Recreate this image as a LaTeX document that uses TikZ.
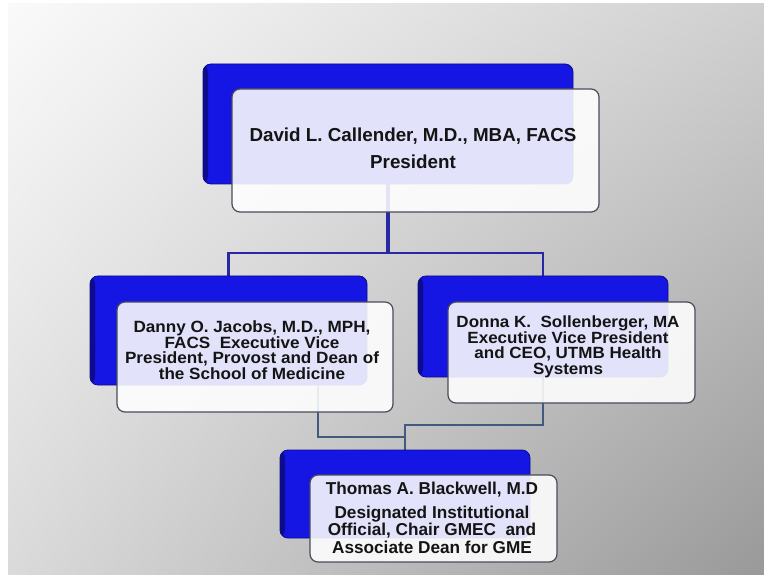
\documentclass[tikz,border=0pt]{standalone}
\usepackage{fontspec}
\setmainfont{Liberation Sans}
\newfontfamily\midfont{Liberation Sans}[FakeStretch=1.05]
\usetikzlibrary{shadings}
\definecolor{bmain}{RGB}{22,22,228}
\definecolor{bdark}{RGB}{12,12,140}
\definecolor{bline}{RGB}{40,40,165}
\definecolor{gline}{RGB}{65,90,125}
\definecolor{fborder}{RGB}{75,75,90}
\definecolor{txtc}{RGB}{20,20,20}
\definecolor{bgul}{RGB}{250,250,250}
\definecolor{bgur}{RGB}{208,208,208}
\definecolor{bgll}{RGB}{218,218,218}
\definecolor{bglr}{RGB}{153,153,153}
\tikzset{
  backbox/.style={rounded corners=8pt, fill=bmain, draw=bdark, line width=0.8pt, inner sep=0pt,
    path picture={\fill[bdark] (path picture bounding box.south west) rectangle ([xshift=5pt]path picture bounding box.north west);}},
  frontbox/.style={rounded corners=8pt, fill=white, fill opacity=0.88, draw=fborder, draw opacity=1, line width=1.2pt, inner sep=0pt},
  txt/.style={text=txtc, align=center, inner sep=0pt},
  topline/.style={draw=bline, line width=2.3pt},
  lowline/.style={draw=gline, line width=2.2pt}
}
\begin{document}
\begin{tikzpicture}[x=1pt,y=-1pt]
\useasboundingbox (0,0) rectangle (764,575);
\fill[white] (0,0) rectangle (764,575);
\shade[upper left=bgul, upper right=bgur, lower left=bgll, lower right=bglr] (8,4) rectangle (764,575);

% named anchor points (positions of boxes)
\coordinate (tbc) at (388,124);
\coordinate (lbc) at (228.5,330.5);
\coordinate (rbc) at (543,326.5);
\coordinate (bbc) at (405,494);

% connectors first (boxes are drawn over them)
\path (tbc) node[minimum width=370pt, minimum height=120pt, inner sep=0pt] (tbg) {};
\path (lbc) node[minimum width=277pt, minimum height=109pt, inner sep=0pt] (lbg) {};
\path (rbc) node[minimum width=250pt, minimum height=101pt, inner sep=0pt] (rbg) {};
\path (bbc) node[minimum width=250pt, minimum height=88pt, inner sep=0pt] (bbg) {};
\coordinate (lo) at (318,385);

\draw[topline, line width=3.6pt] (tbg.south) -- ++(0,69) coordinate (tj);
\draw[topline] (tj) -| (lbg.north);
\draw[topline] (tj) -| (rbg.north);
\draw[lowline] (rbg.south) -- ++(0,48) -| (bbg.north);
\draw[lowline] (lo) -- ++(0,52) -| (bbg.north);

% back boxes
\node[backbox, minimum width=370pt, minimum height=120pt] (tb) at (tbc) {};
\node[backbox, minimum width=277pt, minimum height=109pt] (lb) at (lbc) {};
\node[backbox, minimum width=250pt, minimum height=101pt] (rb) at (rbc) {};
\node[backbox, minimum width=250pt, minimum height=88pt] (bb) at (bbc) {};

% front boxes
\node[frontbox, minimum width=367pt, minimum height=123pt] (tf) at (415.5,150.5) {};
\node[frontbox, minimum width=276pt, minimum height=110pt] (lf) at (255,357) {};
\node[frontbox, minimum width=247pt, minimum height=101pt] (rf) at (571.5,352.5) {};
\node[frontbox, minimum width=247pt, minimum height=87pt] (bf) at (433.5,518.5) {};

% texts
\node[txt, font=\fontsize{18.8}{21}\selectfont\bfseries] (tt) at (413,148.5)
  {David L. Callender, M.D., MBA, FACS\\[6pt]President};
\node[txt, font=\midfont\fontsize{16.3}{15.6}\selectfont\bfseries] (lt) at (252,350)
  {Danny O. Jacobs, M.D., MPH,\\FACS\ \ Executive Vice\\President, Provost and Dean of\\the School of Medicine};
\node[txt, font=\midfont\fontsize{16.2}{15.6}\selectfont\bfseries] (rt) at (568,347)
  {Donna K.\ \ Sollenberger, MA\\Executive Vice President\\and CEO,\ UTMB Health\\Systems};
\node[txt, font=\fontsize{17.2}{17.5}\selectfont\bfseries] (bt) at (432,517.5)
  {Thomas A. Blackwell, M.D\\[6.5pt]Designated Institutional\\Official, Chair GMEC\ \ and\\Associate Dean for GME};
\end{tikzpicture}
\end{document}
